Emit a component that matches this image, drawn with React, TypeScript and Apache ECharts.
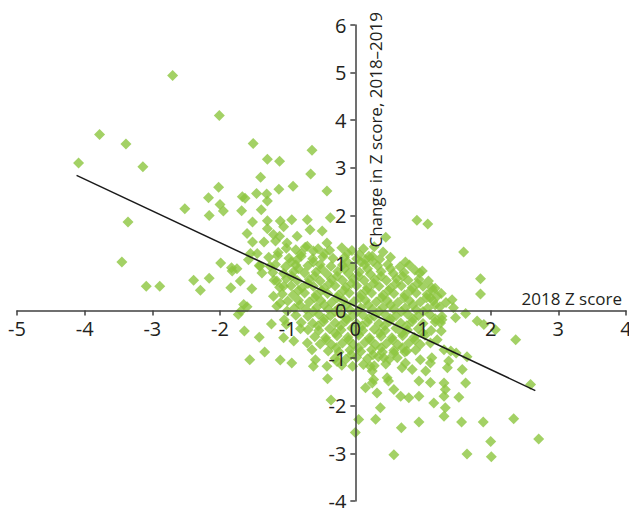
import React, { useEffect, useRef } from "react";
import * as echarts from "echarts";

// Axis ranges and names
const xMin = -5;
const xMax = 4;
const yMin = -4;
const yMax = 6;
const xAxisName = "2018 Z score";
const yAxisName = "Change in Z score, 2018–2019";

// Trend line end points [x, y]
const trendLine: [number, number][] = [
  [-4.12, 2.84],
  [2.66, -1.68],
];

// Scattered points, upper-left (x: 2018 Z score, y: change)
const upperLeftPoints: [number, number][] = [
  [-2.70, 4.94], [-2.01, 4.10], [-3.78, 3.70], [-3.39, 3.50], [-4.09, 3.10], [-3.14, 3.02],
  [-1.51, 3.51], [-1.30, 3.18], [-1.12, 3.14], [-0.64, 3.37], [-0.66, 2.87], [-1.40, 2.80],
  [-1.13, 2.55], [-0.92, 2.61], [-1.46, 2.46], [-1.31, 2.45], [-1.30, 2.30], [-0.42, 2.51],
  [-2.02, 2.59], [-2.17, 2.37], [-2.00, 2.23], [-1.95, 2.09], [-2.52, 2.14], [-2.16, 2.00],
  [-1.67, 2.39], [-1.63, 2.36], [-1.68, 2.10], [-1.39, 2.12], [-3.36, 1.86], [-3.45, 1.02],
  [-0.37, 1.95], [-1.52, 1.86], [-1.30, 1.89], [-1.11, 1.88], [-0.94, 1.91], [-0.71, 1.91],
  [-1.30, 1.72], [-1.06, 1.76], [-0.67, 1.70], [-0.49, 1.67], [-1.60, 1.62], [-1.21, 1.60],
  [-1.12, 1.56], [-0.86, 1.56], [-1.52, 1.44], [-1.35, 1.44], [-1.18, 1.46], [-1.01, 1.42],
  [-0.42, 1.42], [-0.71, 1.35], [-0.62, 1.25], [-1.55, 1.20], [-1.45, 1.20], [-1.14, 1.22],
  [-0.12, 1.21], [-1.58, 1.07], [-0.86, 1.07], [-1.99, 1.00], [-1.83, 0.90], [-1.75, 0.88],
  [-1.82, 0.83], [-1.41, 0.93], [-1.38, 0.79], [-1.26, 0.93], [-2.39, 0.64], [-2.16, 0.68],
  [-1.70, 0.62], [-1.53, 0.46], [-1.84, 0.48], [-2.29, 0.43], [-3.09, 0.51], [-2.89, 0.51],
  [-1.16, 0.62], [-1.06, 0.51], [-1.21, 0.30], [-1.11, 0.16], [-1.65, 0.13], [-1.60, 0.08],
  [-1.69, -0.01], [-1.73, -0.08],
];

// Scattered points, upper-right
const upperRightPoints: [number, number][] = [
  [0.91, 1.90], [1.07, 1.82], [0.45, 1.54], [0.41, 1.23], [1.60, 1.23], [0.74, 1.02],
  [0.99, 0.83], [0.88, 0.85], [1.85, 0.67], [1.85, 0.35], [1.13, 0.48], [1.21, 0.30],
  [1.11, 0.27], [1.43, 0.23], [0.06, 1.18], [0.15, 1.07], [0.25, 1.14], [1.45, 0.06],
];

// Scattered points, lower-left
const lowerLeftPoints: [number, number][] = [
  [-1.64, -0.43], [-1.42, -0.56], [-1.24, -0.28], [-1.05, -0.19], [-1.02, -0.29], [-0.81, -0.38],
  [-1.06, -0.57], [-0.91, -0.64], [-1.34, -0.87], [-1.56, -1.03], [-1.11, -1.04], [-0.94, -1.10],
  [-0.71, -0.68], [-0.64, -0.82], [-0.59, -1.03], [-0.62, -1.17], [-0.42, -1.17], [-0.27, -1.07],
  [-0.41, -1.43], [-0.36, -1.88], [-1.16, 0.09], [-1.01, -0.01],
];

// Scattered points, lower-right
const lowerRightPoints: [number, number][] = [
  [1.63, -0.06], [1.48, -0.15], [1.80, -0.22], [1.90, -0.29], [2.07, -0.40], [2.37, -0.61],
  [1.26, -0.26], [1.27, -0.43], [1.28, -0.19], [1.65, -0.97], [1.49, -0.89], [1.38, -1.06],
  [1.36, -1.20], [1.58, -1.24], [1.63, -1.52], [1.53, -1.82], [1.31, -1.52], [1.33, -1.66],
  [1.31, -1.80], [1.16, -1.94], [1.33, -2.04], [1.31, -2.22], [1.57, -2.34], [1.89, -2.34],
  [2.34, -2.27], [2.59, -1.55], [2.71, -2.70], [2.00, -2.75], [2.01, -3.07], [1.65, -3.01],
  [0.94, -2.34], [0.68, -2.46], [0.57, -3.03], [0.30, -2.28], [0.05, -2.29], [0.00, -2.56],
  [0.15, -1.62], [0.32, -1.73], [0.37, -2.04], [0.57, -1.66], [0.67, -1.80], [0.79, -1.83],
  [0.94, -1.80], [0.47, -1.41], [0.49, -1.48], [0.27, -1.45], [0.25, -1.52], [0.69, -1.20],
  [0.84, -1.24], [0.94, -1.48], [1.11, -1.51], [1.04, -1.27], [0.96, -1.03], [1.11, -1.10],
  [1.13, -0.99], [0.74, -1.10], [0.22, -1.17], [0.25, -1.27], [0.42, -0.99], [0.57, -0.89],
  [0.76, -0.85], [1.31, -0.82], [1.41, -0.85], [1.21, -0.61], [1.11, -0.68],
];

// Dense core around the origin
const corePoints: [number, number][] = [
  [-1.02, 1.31], [-0.88, 1.28], [-0.74, 1.33], [-0.55, 1.30], [-0.38, 1.27], [-0.20, 1.32], [-0.05, 1.26], [0.12, 1.30], [0.28, 1.34],
  [-1.28, 1.12], [-1.15, 1.15], [-0.98, 1.10], [-0.80, 1.14], [-0.63, 1.09], [-0.48, 1.13], [-0.33, 1.10], [-0.16, 1.12], [0.02, 1.09], [0.20, 1.14], [0.36, 1.08], [0.52, 1.12],
  [-1.42, 0.95], [-1.18, 0.97], [-1.03, 0.92], [-0.88, 0.96], [-0.70, 0.94], [-0.52, 0.97], [-0.36, 0.93], [-0.19, 0.96], [-0.04, 0.92], [0.14, 0.97], [0.33, 0.94], [0.48, 0.97], [0.66, 0.92], [0.80, 0.96],
  [-1.22, 0.80], [-1.06, 0.78], [-0.91, 0.82], [-0.75, 0.79], [-0.58, 0.81], [-0.42, 0.77], [-0.26, 0.82], [-0.10, 0.78], [0.06, 0.81], [0.22, 0.77], [0.38, 0.82], [0.56, 0.78], [0.72, 0.80], [0.95, 0.79],
  [-1.20, 0.64], [-1.02, 0.67], [-0.86, 0.63], [-0.68, 0.66], [-0.52, 0.62], [-0.35, 0.66], [-0.19, 0.63], [-0.03, 0.67], [0.13, 0.63], [0.29, 0.66], [0.46, 0.63], [0.61, 0.67], [0.78, 0.64], [0.94, 0.66], [1.08, 0.62],
  [-1.12, 0.49], [-0.95, 0.52], [-0.79, 0.48], [-0.62, 0.51], [-0.46, 0.47], [-0.30, 0.52], [-0.14, 0.49], [0.02, 0.52], [0.18, 0.48], [0.35, 0.51], [0.52, 0.47], [0.68, 0.52], [0.84, 0.48], [1.00, 0.51], [1.18, 0.47],
  [-1.08, 0.35], [-0.92, 0.33], [-0.75, 0.37], [-0.58, 0.33], [-0.41, 0.36], [-0.25, 0.32], [-0.09, 0.37], [0.08, 0.34], [0.24, 0.37], [0.41, 0.33], [0.57, 0.36], [0.73, 0.33], [0.90, 0.37], [1.06, 0.34], [1.27, 0.36],
  [-1.00, 0.20], [-0.84, 0.22], [-0.68, 0.18], [-0.51, 0.21], [-0.35, 0.17], [-0.18, 0.22], [-0.02, 0.19], [0.15, 0.22], [0.31, 0.18], [0.47, 0.21], [0.63, 0.17], [0.80, 0.21], [0.96, 0.18], [1.15, 0.20], [1.34, 0.17],
  [-0.90, 0.05], [-0.73, 0.03], [-0.57, 0.07], [-0.40, 0.03], [-0.24, 0.06], [-0.08, 0.02], [0.08, 0.06], [0.25, 0.03], [0.41, 0.07], [0.57, 0.03], [0.74, 0.06], [0.90, 0.02], [1.07, 0.05], [1.25, 0.08],
  [-0.88, -0.10], [-0.70, -0.12], [-0.54, -0.08], [-0.37, -0.11], [-0.21, -0.07], [-0.05, -0.12], [0.11, -0.09], [0.28, -0.12], [0.44, -0.08], [0.60, -0.11], [0.77, -0.07], [0.93, -0.11], [1.10, -0.08], [1.28, -0.12],
  [-0.80, -0.25], [-0.63, -0.27], [-0.47, -0.23], [-0.30, -0.26], [-0.14, -0.22], [0.02, -0.27], [0.18, -0.24], [0.35, -0.27], [0.51, -0.22], [0.67, -0.26], [0.84, -0.23], [1.00, -0.27], [1.18, -0.24],
  [-0.70, -0.40], [-0.54, -0.42], [-0.38, -0.38], [-0.21, -0.41], [-0.05, -0.37], [0.11, -0.42], [0.28, -0.39], [0.44, -0.42], [0.60, -0.37], [0.77, -0.41], [0.93, -0.38], [1.12, -0.42],
  [-0.60, -0.55], [-0.44, -0.57], [-0.27, -0.53], [-0.11, -0.56], [0.05, -0.52], [0.21, -0.57], [0.38, -0.54], [0.54, -0.57], [0.70, -0.53], [0.87, -0.56], [1.03, -0.52],
  [-0.52, -0.70], [-0.35, -0.72], [-0.19, -0.68], [-0.03, -0.71], [0.14, -0.67], [0.30, -0.72], [0.46, -0.69], [0.63, -0.72], [0.79, -0.68], [0.96, -0.71],
  [-0.40, -0.85], [-0.24, -0.87], [-0.08, -0.83], [0.08, -0.86], [0.24, -0.82], [0.40, -0.87], [0.57, -0.84], [0.73, -0.87], [0.89, -0.83],
  [-0.30, -1.00], [-0.14, -1.02], [0.02, -0.98], [0.18, -1.01], [0.34, -0.97], [0.50, -1.02], [0.62, -0.99],
  [-0.20, -1.15], [-0.04, -1.17], [0.12, -1.13], [0.28, -1.16], [0.45, -1.12],
];

// Extra points filling the gaps inside the dense core
const coreFillPoints: [number, number][] = [
  [-0.80, 1.20], [-0.46, 1.20], [-0.12, 1.02], [0.08, 1.02], [-0.62, 1.02], [-0.95, 1.02], [0.26, 1.03],
  [-0.50, 0.88], [-0.16, 0.88], [0.18, 0.88], [0.52, 0.88], [-0.84, 0.88],
  [-0.60, 0.72], [-0.27, 0.72], [0.05, 0.72], [0.38, 0.72], [0.70, 0.72], [-0.94, 0.72],
  [-0.70, 0.57], [-0.38, 0.57], [-0.06, 0.57], [0.27, 0.57], [0.60, 0.57], [0.92, 0.57],
  [-0.84, 0.42], [-0.50, 0.42], [-0.17, 0.42], [0.16, 0.42], [0.49, 0.42], [0.82, 0.42], [1.14, 0.42],
  [-0.60, 0.27], [-0.27, 0.27], [0.07, 0.27], [0.39, 0.27], [0.72, 0.27], [1.05, 0.27],
  [-0.82, 0.12], [-0.46, 0.12], [-0.13, 0.12], [0.19, 0.12], [0.52, 0.12], [0.85, 0.12], [1.18, 0.12],
  [-0.62, -0.02], [-0.30, -0.02], [0.03, -0.02], [0.35, -0.02], [0.68, -0.02], [1.00, -0.02],
  [-0.46, -0.17], [-0.13, -0.17], [0.20, -0.17], [0.52, -0.17], [0.85, -0.17], [1.18, -0.17],
  [-0.55, -0.32], [-0.22, -0.32], [0.10, -0.32], [0.43, -0.32], [0.76, -0.32],
  [-0.30, -0.47], [0.03, -0.47], [0.36, -0.47], [0.69, -0.47], [1.00, -0.47],
  [-0.43, -0.62], [-0.10, -0.62], [0.22, -0.62], [0.55, -0.62], [0.88, -0.62],
  [-0.28, -0.78], [0.05, -0.78], [0.38, -0.78], [0.70, -0.78],
  [-0.06, -0.93], [0.26, -0.93],
];

const FONT = '"Open Sans", "Noto Sans", sans-serif';
const TEXT = "#231f20";
const AXIS = "#404040";
const GREEN = "#8cc63f";

const W = 629;
const H = 508;
const GRID = { left: 17, right: 3, top: 25, bottom: 7 };

export default function App() {
  const ref = useRef<HTMLDivElement>(null);
  useEffect(() => {
    if (!ref.current) return;
    const chart = echarts.init(ref.current, undefined, { renderer: "svg" });
    const allPoints = [
      ...upperLeftPoints,
      ...upperRightPoints,
      ...lowerLeftPoints,
      ...lowerRightPoints,
      ...corePoints,
      ...coreFillPoints,
    ];
    // place the axes through the origin: offset from the grid edges to value 0
    const gridW = W - GRID.left - GRID.right;
    const gridH = H - GRID.top - GRID.bottom;
    const xZeroOffset = ((0 - yMin) / (yMax - yMin)) * gridH;
    const yZeroOffset = ((0 - xMin) / (xMax - xMin)) * gridW;
    chart.setOption({
      animation: false,
      backgroundColor: "#ffffff",
      grid: {
        ...GRID,
        containLabel: false,
        outerBoundsMode: "none",
      },
      xAxis: {
        type: "value",
        min: xMin,
        max: xMax,
        interval: 1,
        position: "bottom",
        offset: -xZeroOffset,
        z: 5,
        axisLine: { onZero: false, lineStyle: { color: AXIS, width: 1.5 } },
        axisTick: { show: true, length: 5, lineStyle: { color: AXIS, width: 1.5 } },
        axisLabel: { fontSize: 20, fontFamily: FONT, color: TEXT, margin: 8 },
        splitLine: { show: false },
        name: xAxisName,
        nameLocation: "end",
        nameGap: -4,
        nameTextStyle: {
          fontSize: 17,
          fontFamily: FONT,
          color: TEXT,
          align: "right",
          verticalAlign: "bottom",
          padding: [0, 0, 4, 0],
        },
      },
      yAxis: {
        type: "value",
        min: yMin,
        max: yMax,
        interval: 1,
        position: "left",
        offset: -yZeroOffset,
        z: 5,
        axisLine: { onZero: false, lineStyle: { color: AXIS, width: 1.5 } },
        axisTick: { show: true, length: 5, lineStyle: { color: AXIS, width: 1.5 } },
        axisLabel: { fontSize: 20, fontFamily: FONT, color: TEXT, margin: 9 },
        splitLine: { show: false },
      },
      graphic: [
        {
          type: "text",
          x: 375,
          y: 12,
          rotation: Math.PI / 2,
          z: 10,
          style: {
            text: yAxisName,
            font: `17px ${FONT}`,
            fill: TEXT,
            align: "right",
            verticalAlign: "middle",
          },
        },
      ],
      series: [
        {
          type: "scatter",
          data: allPoints,
          symbol: "diamond",
          symbolSize: 11,
          itemStyle: { color: GREEN },
          z: 2,
        },
        {
          type: "line",
          data: trendLine,
          symbol: "none",
          lineStyle: { color: "#1a1a1a", width: 1.5 },
          z: 4,
        },
      ],
    });
    return () => chart.dispose();
  }, []);
  return (
    <div
      ref={ref}
      style={{ position: "fixed", left: 0, top: 0, width: W, height: H }}
    />
  );
}
